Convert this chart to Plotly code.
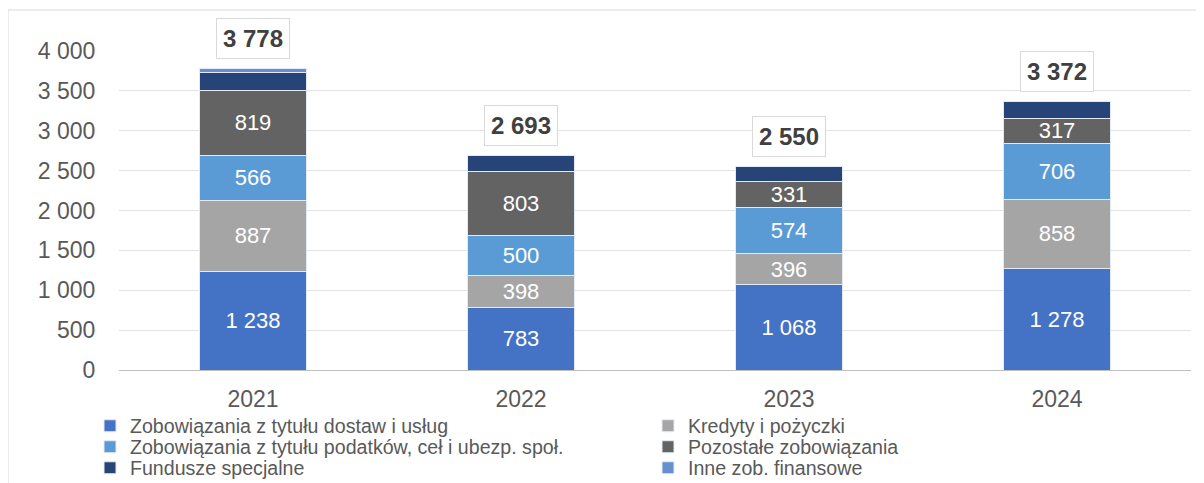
import plotly.graph_objects as go

years = ["2021", "2022", "2023", "2024"]
dostaw = [1238, 783, 1068, 1278]
kredyty = [887, 398, 396, 858]
podatki = [566, 500, 574, 706]
pozostale = [819, 803, 331, 317]
fundusze = [218, 206, 181, 213]
inne = [50, 3, 0, 0]
totals = [3778, 2693, 2550, 3372]
y_ticks = [0, 500, 1000, 1500, 2000, 2500, 3000, 3500, 4000]

FONT = "Arial, Liberation Sans, sans-serif"

# page has an 8px body offset: figure coords = reference px - 8
L, R, T, B = 111, 13, 43, 113
W, H = 1196, 475
PW, PH = W - L - R, H - T - B

def px_x(px):
    return (px - 8 - L) / PW

def px_y(px):
    return (H - B - (px - 8)) / PH

# (name, values, colour, show label, legend id, legend text start x, legend row y)
series = [
    ("Zobowiązania z tytułu dostaw i usług", dostaw, "#4472C4", True, "legend", 130, 426),
    ("Kredyty i pożyczki", kredyty, "#A5A5A5", True, "legend2", 688, 426),
    ("Zobowiązania z tytułu podatków, ceł i ubezp. społ.", podatki, "#5B9BD5", True, "legend3", 130, 447),
    ("Pozostałe zobowiązania", pozostale, "#636363", True, "legend4", 688, 447),
    ("Fundusze specjalne", fundusze, "#264478", False, "legend5", 130, 468),
    ("Inne zob. finansowe", inne, "#698ED0", False, "legend6", 688, 468),
]

def fmt(v):
    return f"{v:,}".replace(",", " ")

fig = go.Figure()
legends = {}
for name, vals, color, lab, lg, lx, lyy in series:
    fig.add_trace(go.Bar(
        x=years, y=vals, name=name, legend=lg,
        marker=dict(color=color, line=dict(color="#E4EAF4", width=1)),
        text=[fmt(v) for v in vals] if lab else [""] * len(vals),
        textposition="inside",
        insidetextanchor="middle",
        textfont=dict(color="white", size=22, family=FONT),
    ))
    legends[lg] = dict(orientation="h", xanchor="left", yanchor="middle",
                       x=px_x(lx - 40), y=px_y(lyy), itemwidth=30,
                       font=dict(size=19.6, color="#595959", family=FONT),
                       bgcolor="rgba(0,0,0,0)")

# total labels, placed on the category axis by category index
for i, t in enumerate(totals):
    fig.add_annotation(
        x=i, y=t, xref="x", yref="y", text=f"<b>{fmt(t)}</b>", showarrow=False,
        yshift=30, bgcolor="white", bordercolor="#D9D9D9", borderwidth=1,
        borderpad=6,
        font=dict(size=24, color="#404040", family=FONT),
    )

fig.add_shape(type="rect", xref="paper", yref="paper",
              x0=px_x(8), x1=px_x(1215), y0=px_y(500), y1=px_y(10),
              line=dict(color="#D9D9D9", width=1), fillcolor="rgba(0,0,0,0)", layer="below")

fig.update_layout(
    width=W, height=H,
    barmode="stack", bargap=0.6,
    plot_bgcolor="white", paper_bgcolor="white",
    margin=dict(l=L, r=R, t=T, b=B, autoexpand=False),
    font=dict(family=FONT, size=20, color="#595959"),
    showlegend=True,
    uniformtext=dict(minsize=22, mode="show"),
    **legends,
)
fig.update_xaxes(type="category", range=[-0.5, 3.5], showgrid=False, showline=False,
                 ticks="outside", ticklen=8, tickcolor="rgba(0,0,0,0)",
                 tickfont=dict(size=23, color="#595959", family=FONT))
fig.update_yaxes(range=[0, 4000], tickvals=y_ticks, ticktext=[fmt(v) for v in y_ticks],
                 showgrid=True, gridcolor="#E3E3E3",
                 zeroline=True, zerolinecolor="#BFBFBF", zerolinewidth=1,
                 ticks="outside", ticklen=18, tickcolor="rgba(0,0,0,0)",
                 tickfont=dict(size=23, color="#595959", family=FONT))

fig.write_html("out.html")
